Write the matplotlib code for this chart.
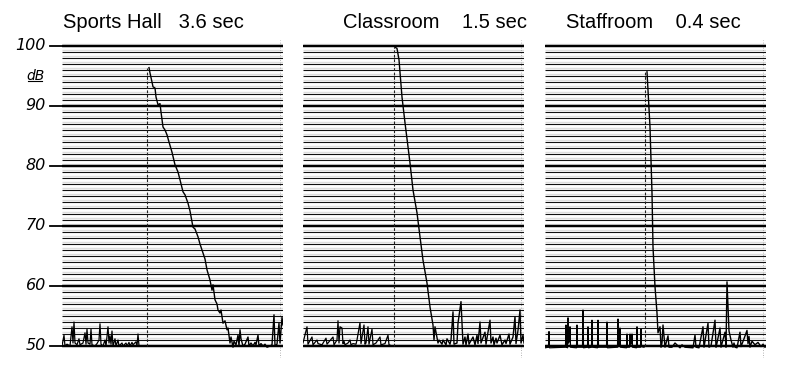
import numpy as np
import matplotlib.pyplot as plt

plt.rcParams['font.family'] = ['Liberation Sans', 'DejaVu Sans']

titles = ['Sports Hall   3.6 sec', 'Classroom    1.5 sec', 'Staffroom    0.4 sec']
db_ticks = [50, 60, 70, 80, 90, 100]

# pen trace of each panel: time (arbitrary chart units) and level (dB)
hall_t = [0, 2, 3, 5, 8, 10, 11, 12, 13, 15, 17, 18, 21, 23, 24, 25, 26, 28, 29, 30,
          33, 35, 37, 38, 39, 41, 43, 44, 46, 47, 48, 49, 50, 51, 53, 54, 56, 57, 60, 61,
          64, 65, 67, 68, 70, 71, 74, 75, 76, 77]
hall_db = [50, 51.8, 50, 50.3, 50, 53.2, 50.5, 54, 50.5, 50.2, 51.2, 50.2, 50.5, 52.2, 50.3, 52.8, 50.5, 50.3, 52.8, 50.2,
           50, 50.4, 51, 53.7, 50.3, 50, 51, 50, 53.2, 50.5, 51.7, 50.3, 52.5, 50, 51.2, 50, 51, 50, 50.5, 50,
           50.5, 50, 50.6, 50, 50.6, 50.2, 50.7, 50, 52, 50]
hall_decay_t = [87, 88, 90, 91, 93, 94, 96, 98, 99, 101, 103, 105, 107, 110, 113, 116, 118, 121, 123, 126,
                128, 131, 133, 136, 138, 140, 143, 145, 148, 150, 151, 153, 155, 156, 158, 159, 161, 163, 165, 166,
                168, 169, 171, 172, 174, 176, 177, 178, 179, 181, 183, 186, 187, 189, 191, 193, 194, 196, 197, 199,
                201, 203, 205, 208, 210, 212, 213, 215, 217, 218, 220, 221]
hall_decay_db = [96.4, 95.5, 94, 93.2, 93, 91.5, 90.2, 90.4, 89, 86.5, 86, 85.2, 84, 82.3, 80.2, 79, 77.7, 75.7, 75.2, 73.8,
                 72.5, 69.8, 69.5, 68.2, 67, 66, 64.5, 62.7, 61, 59.3, 60.2, 57.7, 57, 56, 55.5, 56, 53.8, 54.2, 52.7, 53,
                 50.5, 51.5, 49.8, 50.8, 50.2, 51.8, 50, 52.7, 51.2, 50, 50.3, 51.5, 50, 50.5, 50, 50.6, 50.2, 51.8, 50, 50.4,
                 50, 50.3, 49.8, 50, 50.2, 55.2, 50, 50.3, 53.8, 50.5, 54.8, 53.5]
hall_onset = 85

class_t = [0, 4, 5, 9, 10, 14, 15, 19, 23, 24, 30, 31, 34, 35, 36, 37, 39, 40, 41, 42,
           45, 47, 48, 50, 53, 54, 57, 58, 60, 61, 62, 63, 65, 66, 69, 70, 73, 77, 78, 82,
           85, 86, 89]
class_db = [50.5, 53.2, 50.3, 51.5, 50.2, 51, 50.4, 50.2, 51.3, 50.3, 51.5, 50.2, 51, 54.2, 50.5, 53.2, 53, 50.4, 50.8, 50.2,
            50.5, 51, 50.2, 50.4, 50.3, 51, 53.9, 50.4, 52.5, 53.5, 50.3, 50.5, 53.2, 50.3, 52.8, 50.2, 50.5, 51.5, 50.2, 50.4,
            51.8, 50.2, 50]
class_decay_t = [92, 94, 96, 99, 102, 105, 107, 110, 114, 117, 120, 124, 127, 130, 131, 132, 135, 136, 139, 140,
                 143, 144, 147, 148, 150, 151, 154, 155, 158, 160, 162, 163, 165, 166, 170, 172, 174, 175, 177, 178,
                 182, 183, 187, 188, 190, 191, 193, 194, 197, 199, 202, 203, 206, 207, 210, 212, 213, 215, 217, 218,
                 220, 221]
class_decay_db = [99.8, 99.6, 97.7, 91.5, 87.2, 83.2, 80.5, 76, 72.2, 68.2, 64.3, 60.5, 56.5, 53.5, 51, 53.2, 50.5, 51, 50.3, 51,
                  50.2, 51.2, 50.3, 51, 55.7, 50.3, 50.5, 53.8, 57.4, 50.3, 51.5, 50.2, 52, 50.3, 51.5, 50.2, 51.8, 50.4, 54, 50.5,
                  52.3, 50.3, 54.3, 50.5, 51.5, 50.2, 51.3, 50.5, 51.8, 50.2, 51, 50.4, 52, 50.3, 51.5, 54.9, 50.4, 52.6, 56, 50.5,
                  51.8, 50.5]
class_onset = 91

staff_t = [0, 3.5, 4, 4.5, 20.5, 21, 21.5, 22.5, 23, 23.5, 24.5, 25, 25.5, 31.5, 32, 32.5, 37.5, 38, 38.5,
           42.5, 43, 43.5, 46.5, 47, 47.5, 52.5, 53, 53.5, 61.5, 62, 62.5, 72.5, 73, 73.5, 74.5, 75, 75.5,
           81.5, 82, 82.5, 84.5, 85, 85.5, 86.5, 87, 87.5, 91.5, 92, 92.5, 95.5, 96, 96.5, 99]
staff_db = [49.7, 49.8, 52.4, 49.7, 49.8, 53.5, 49.8, 49.7, 54.7, 50.5, 51, 53.2, 49.8, 49.7, 53.5, 49.8, 49.8, 56, 49.7,
            49.8, 53.2, 49.7, 49.8, 54.3, 49.8, 49.7, 54.3, 49.8, 49.8, 54, 49.7, 49.8, 54.5, 49.9, 50.2, 53, 49.8,
            49.7, 52, 49.8, 49.8, 52, 50.3, 50.4, 52, 49.8, 49.7, 53.2, 49.8, 49.8, 52.8, 49.9, 49.8]
staff_decay_t = [102, 105, 107, 108, 110, 112, 113, 115, 116, 117, 118, 120, 123, 124, 127, 130, 135, 137, 140, 148,
                 150, 151, 154, 158, 159, 163, 164, 166, 170, 171, 172, 175, 176, 180, 181, 182, 184, 186, 188, 189,
                 190, 192, 195, 196, 199, 202, 203, 204, 205, 207, 210, 213, 216, 218, 220]
staff_decay_db = [95.7, 86.5, 75.5, 66.5, 59.9, 55.5, 52.2, 53.2, 49.8, 50.5, 53.5, 49.8, 51.7, 49.8, 49.8, 50.5, 49.7, 50.2, 49.8, 49.7,
                  51.8, 49.8, 49.7, 53.2, 49.8, 53.8, 49.8, 50, 54.3, 49.8, 50.5, 53, 49.8, 52.3, 49.8, 60.7, 52.5, 51, 49.8, 50.5,
                  49.8, 49.7, 52.3, 49.9, 51.2, 52.6, 50.4, 51.6, 49.8, 50.8, 50.2, 50.6, 49.9, 50.3, 49.8]
staff_onset = 100

panels = [
    (hall_t, hall_db, hall_decay_t, hall_decay_db, hall_onset),
    (class_t, class_db, class_decay_t, class_decay_db, class_onset),
    (staff_t, staff_db, staff_decay_t, staff_decay_db, staff_onset),
]

fig = plt.figure(figsize=(8, 3.7), dpi=100)
lefts = [62, 303, 545]
title_x = [91, 132, 108]
width = 221
minor = np.arange(50, 101, 1)

for i, (t1, d1, t2, d2, onset) in enumerate(panels):
    ax = fig.add_axes([lefts[i]/800, 12/370, width/800, 318/370])
    ax.set_xlim(0, width)
    ax.set_ylim(48, 101)
    ax.axis('off')

    # chart paper lines, faint grey smear just above each printed line
    ax.hlines(minor + 0.35, 0, width, color='#dedede', lw=1.0, zorder=1)
    ax.hlines(minor, 0, width, color='#111111', lw=0.8, zorder=2)
    ax.hlines(db_ticks, 0, width, color='black', lw=1.7, zorder=2)
    ax.axvline(width - 3, color='#9a9a9a', lw=0.6, ls=(0, (1, 2)), zorder=1)

    ax.plot(t1, d1, color='black', lw=0.9, zorder=3)
    ax.vlines(onset, 50, d2[0], color='#222222', lw=0.8, ls=(0, (2.5, 1.5)), zorder=3)
    ax.plot(t2, d2, color='black', lw=1.0, zorder=3)

    ax.text(title_x[i], 104, titles[i], ha='center', va='center', fontsize=14.5)

    if i == 0:
        for v in db_ticks:
            ax.plot([-12, 0], [v, v], color='black', lw=1.3, clip_on=False)
            ax.text(-16, v, str(v), ha='right', va='center', fontsize=11.5,
                    style='italic', family=['DejaVu Sans'])
        ax.text(-27, 95, 'dB', ha='center', va='center', fontsize=10,
                style='italic', family=['DejaVu Sans'])
        ax.plot([-34, -20], [94.2, 94.2], color='black', lw=0.8, clip_on=False)

fig.savefig('out.png', dpi=100)
